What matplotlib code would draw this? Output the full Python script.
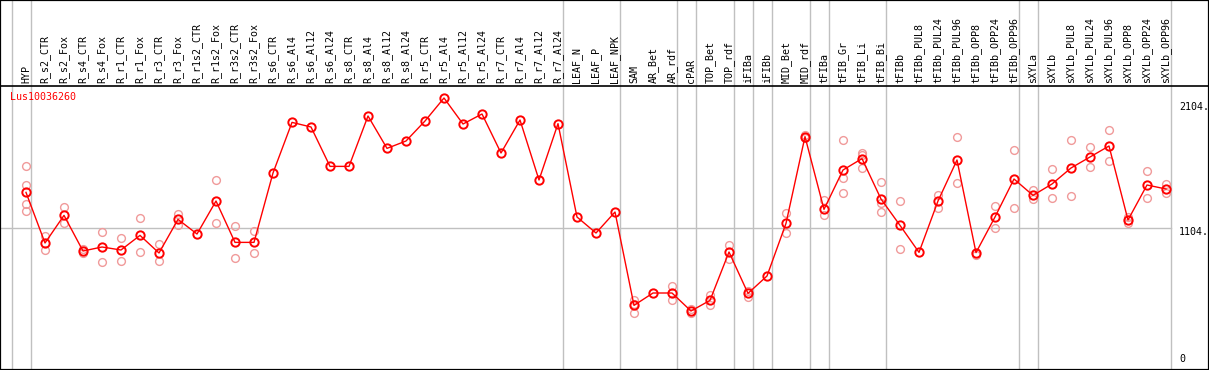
import matplotlib
matplotlib.use('Agg')
import matplotlib.pyplot as plt

gene = 'Lus10036260'

samples = ['HYP',
           'R_s2_CTR', 'R_s2_Fox', 'R_s4_CTR', 'R_s4_Fox', 'R_r1_CTR', 'R_r1_Fox',
           'R_r3_CTR', 'R_r3_Fox', 'R_r1s2_CTR', 'R_r1s2_Fox', 'R_r3s2_CTR', 'R_r3s2_Fox',
           'R_s6_CTR', 'R_s6_Al4', 'R_s6_Al12', 'R_s6_Al24',
           'R_s8_CTR', 'R_s8_Al4', 'R_s8_Al12', 'R_s8_Al24',
           'R_r5_CTR', 'R_r5_Al4', 'R_r5_Al12', 'R_r5_Al24',
           'R_r7_CTR', 'R_r7_Al4', 'R_r7_Al12', 'R_r7_Al24',
           'LEAF_N', 'LEAF_P', 'LEAF_NPK', 'SAM', 'AR_Bet', 'AR_rdf', 'cPAR',
           'TOP_Bet', 'TOP_rdf', 'iFIBa', 'iFIBb', 'MID_Bet', 'MID_rdf',
           'tFIBa', 'tFIB_Gr', 'tFIB_Li', 'tFIB_Bi', 'tFIBb',
           'tFIBb_PUL8', 'tFIBb_PUL24', 'tFIBb_PUL96', 'tFIBb_OPP8', 'tFIBb_OPP24', 'tFIBb_OPP96',
           'sXYLa', 'sXYLb',
           'sXYLb_PUL8', 'sXYLb_PUL24', 'sXYLb_PUL96', 'sXYLb_OPP8', 'sXYLb_OPP24', 'sXYLb_OPP96']

# mean expression per sample
means = [1389,
         984, 1205, 920, 952, 928, 1045, 904, 1173, 1056, 1320, 989, 989,
         1544, 1949, 1912, 1597,
         1597, 2000, 1741, 1800,
         1960, 2144, 1936, 2016,
         1704, 1968, 1488, 1939,
         1192, 1064, 1232, 485, 584, 584, 440,
         525, 912, 581, 720, 1141, 1835,
         1253, 1568, 1659, 1336, 1125,
         909, 1320, 1648, 907, 1192, 1496,
         1365, 1456,
         1584, 1672, 1760, 1168, 1448, 1416]

# replicate values (light circles)
reps = [[1597, 1445, 1296, 1237],
        [1043, 925], [1272, 1141], [933, 907], [1069, 829], [1021, 837], [1181, 909],
        [976, 837], [1219, 1125], [], [1488, 1141], [1120, 864], [1080, 901],
        [], [], [], [],
        [], [], [], [],
        [], [], [], [],
        [], [], [], [],
        [], [], [], [528, 427, 500], [], [640, 525], [453, 428],
        [565, 491], [965, 856], [603, 549], [], [1221, 1061], [1845, 1825],
        [1328, 1208], [1808, 1501, 1384], [1707, 1691, 1581], [1472, 1301, 1235], [1320, 936],
        [], [1368, 1267], [1832, 1464], [885], [1277, 1104], [1725, 1264],
        [1408, 1339], [1576, 1344],
        [1808, 1360], [1755, 1589], [1888, 1640], [1141, 1190], [1560, 1347], [1459, 1381]]

# group boundaries (index of the last sample in each block)
group_ends = [-1, 0, 28, 31, 34, 35, 37, 38, 39, 41, 42, 45, 52, 53, 60]

yticks = [0, 1104, 2104]

mono = 'DejaVu Sans Mono'

fig = plt.figure(figsize=(12.09, 3.70), dpi=100)
ax = fig.add_axes([0, 0, 1, 1])
ax.set_xlim(-26 / 19, (1209 - 26) / 19)
ax.set_ylim(-32, 2928)
ax.set_xticks([])
ax.set_yticks([])
for s in ax.spines.values():
    s.set_color('black')
    s.set_linewidth(1.6)

x = list(range(len(samples)))

# grey separators
for g in group_ends:
    ax.axvline(g + 0.24, color='#c0c0c0', lw=1, zorder=1)
ax.plot([-26 / 19, 60.24], [1104, 1104], color='#c0c0c0', lw=1, zorder=1)

# line between label area and plot
ax.axhline(2240, color='black', lw=1.2, zorder=2)

# replicates
for i, r in enumerate(reps):
    if r:
        ax.plot([i] * len(r), r, 'o', ms=5.6, mfc='none', mec='#f09a9a', mew=1.0, zorder=3)

# means
ax.plot(x, means, '-', color='red', lw=1, zorder=4)
ax.plot(x, means, 'o', ms=6, mfc='none', mec='red', mew=1.4, zorder=5)

# sample labels
for i, name in enumerate(samples):
    ax.text(i, 2264, name, rotation=90, ha='center', va='bottom',
            family=mono, fontsize=7.2, color='black')

ax.text(-0.84, 2152, gene, ha='left', va='center', family=mono, fontsize=7.2, color='red')

# right-side scale
xr = (1179 - 26) / 19
for v in yticks:
    if v == 0:
        ax.text(xr, 16, '0', ha='left', va='bottom', family=mono, fontsize=7.2)
    else:
        ax.text(xr, v + 8, f'{v}.', ha='left', va='top', family=mono, fontsize=7.2)

fig.savefig('out.png', dpi=100)
